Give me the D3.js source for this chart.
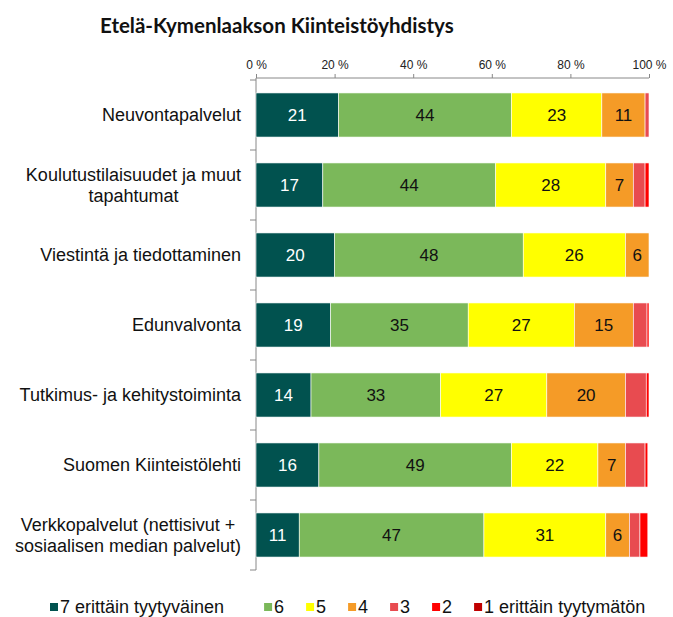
<!DOCTYPE html>
<html>
<head>
<meta charset="utf-8">
<script src="https://cdn.jsdelivr.net/npm/d3@7"></script>
<style>
  body { margin: 0; background: #fff; }
  svg text { font-family: "Liberation Sans", Arial, sans-serif; }
</style>
</head>
<body>
<svg id="chart" width="673" height="617"></svg>
<script>
const categories = [
  ["Neuvontapalvelut"],
  ["Koulutustilaisuudet ja muut", "tapahtumat"],
  ["Viestintä ja tiedottaminen"],
  ["Edunvalvonta"],
  ["Tutkimus- ja kehitystoiminta"],
  ["Suomen Kiinteistölehti"],
  ["Verkkopalvelut (nettisivut +", "sosiaalisen median palvelut)"]
];
const seriesNames = ["7 erittäin tyytyväinen", "6", "5", "4", "3", "2", "1 erittäin tyytymätön"];
const v7 = [21, 17, 20, 19, 14, 16, 11];
const v6 = [44, 44, 48, 35, 33, 49, 47];
const v5 = [23, 28, 26, 27, 27, 22, 31];
const v4 = [11, 7, 6, 15, 20, 7, 6];
const v3 = [1, 3, 0, 3.5, 5.3, 5, 2.7];
const v2 = [0, 1, 0, 0.5, 0.7, 0.7, 2];
const v1 = [0, 0, 0, 0, 0, 0, 0];
const tickValues = [0, 20, 40, 60, 80, 100];

const colors = ["#01524f", "#7bb85a", "#ffff00", "#f59b27", "#e84b50", "#ff0000", "#c00000"];
const series = [v7, v6, v5, v4, v3, v2, v1];

const svg = d3.select("#chart");

// title
svg.append("text")
  .attr("x", 100).attr("y", 33)
  .style("font-family", "Lato, 'Open Sans', sans-serif")
  .style("font-weight", "bold")
  .style("font-size", "20.5px")
  .attr("fill", "#111")
  .text("Etelä-Kymenlaakson Kiinteistöyhdistys");

const x = d3.scaleLinear().domain([0, 100]).range([256, 649]);
const y = d3.scaleBand()
  .domain(d3.range(categories.length))
  .range([80, 570])
  .paddingInner(0.37)
  .paddingOuter(0.185);

// top axis
const xAxis = svg.append("g")
  .attr("transform", "translate(0,78)")
  .call(d3.axisTop(x).tickValues(tickValues).tickSize(4).tickPadding(5)
    .tickFormat(d => d + " %"));
xAxis.select(".domain").attr("stroke", "#888").attr("d", "M256,0H649");
xAxis.selectAll(".tick line").attr("stroke", "#888");
xAxis.selectAll(".tick text").style("font-size", "12px").attr("fill", "#222");

// left axis line with category ticks
const yAxis = svg.append("g");
yAxis.append("line")
  .attr("x1", 256).attr("x2", 256)
  .attr("y1", 78).attr("y2", 570)
  .attr("stroke", "#888");
yAxis.selectAll("line.sep")
  .data(d3.range(categories.length + 1))
  .join("line")
  .attr("class", "sep")
  .attr("x1", 250).attr("x2", 256)
  .attr("y1", i => i === categories.length ? 570 : y(i) - y.step() * y.paddingInner() / 2)
  .attr("y2", i => i === categories.length ? 570 : y(i) - y.step() * y.paddingInner() / 2)
  .attr("stroke", "#888");

// stacked data
const rows = categories.map((c, i) => {
  let acc = 0;
  return series.map((s, k) => {
    const seg = { row: i, k, v: s[i], x0: acc, x1: acc + s[i] };
    acc += s[i];
    return seg;
  });
});

const barG = svg.append("g");
rows.forEach(row => {
  const g = barG.append("g");
  g.selectAll("rect")
    .data(row.filter(d => d.v > 0))
    .join("rect")
    .attr("x", d => x(d.x0))
    .attr("y", d => y(d.row))
    .attr("width", d => x(d.x1) - x(d.x0))
    .attr("height", y.bandwidth())
    .attr("fill", d => colors[d.k])
    .attr("stroke", "#fff")
    .attr("stroke-width", 0.6);
  g.selectAll("text")
    .data(row.filter(d => d.v >= 6))
    .join("text")
    .attr("x", d => (x(d.x0) + x(d.x1)) / 2)
    .attr("y", d => y(d.row) + y.bandwidth() / 2)
    .attr("dy", "0.36em")
    .attr("text-anchor", "middle")
    .style("font-size", "17px")
    .attr("fill", d => d.k === 0 ? "#fff" : "#111")
    .text(d => Math.round(d.v));
});

// category labels (centered lines, block right-aligned)
categories.forEach((lines, i) => {
  const t = svg.append("text")
    .style("font-size", "18px")
    .attr("fill", "#111");
  const lh = 21;
  const cy = y(i) + y.bandwidth() / 2;
  lines.forEach((ln, j) => {
    t.append("tspan")
      .attr("y", cy + (j - (lines.length - 1) / 2) * lh)
      .attr("dy", "0.36em")
      .text(ln);
  });
  const widths = [];
  t.selectAll("tspan").each(function () { widths.push(this.getComputedTextLength()); });
  const maxW = d3.max(widths);
  const centre = 241 - maxW / 2;
  t.selectAll("tspan").attr("x", centre).attr("text-anchor", "middle");
});

// legend
const leg = svg.append("g");
let lx = 50;
seriesNames.forEach((name, k) => {
  leg.append("rect")
    .attr("x", lx).attr("y", 603)
    .attr("width", 8).attr("height", 8)
    .attr("fill", colors[k]);
  const t = leg.append("text")
    .attr("x", lx + 10).attr("y", 613)
    .style("font-size", "18px")
    .attr("fill", "#111")
    .text(name);
  const w = t.node().getComputedTextLength();
  lx += w < 30 ? 42 : w + 50;
});
</script>
</body>
</html>
